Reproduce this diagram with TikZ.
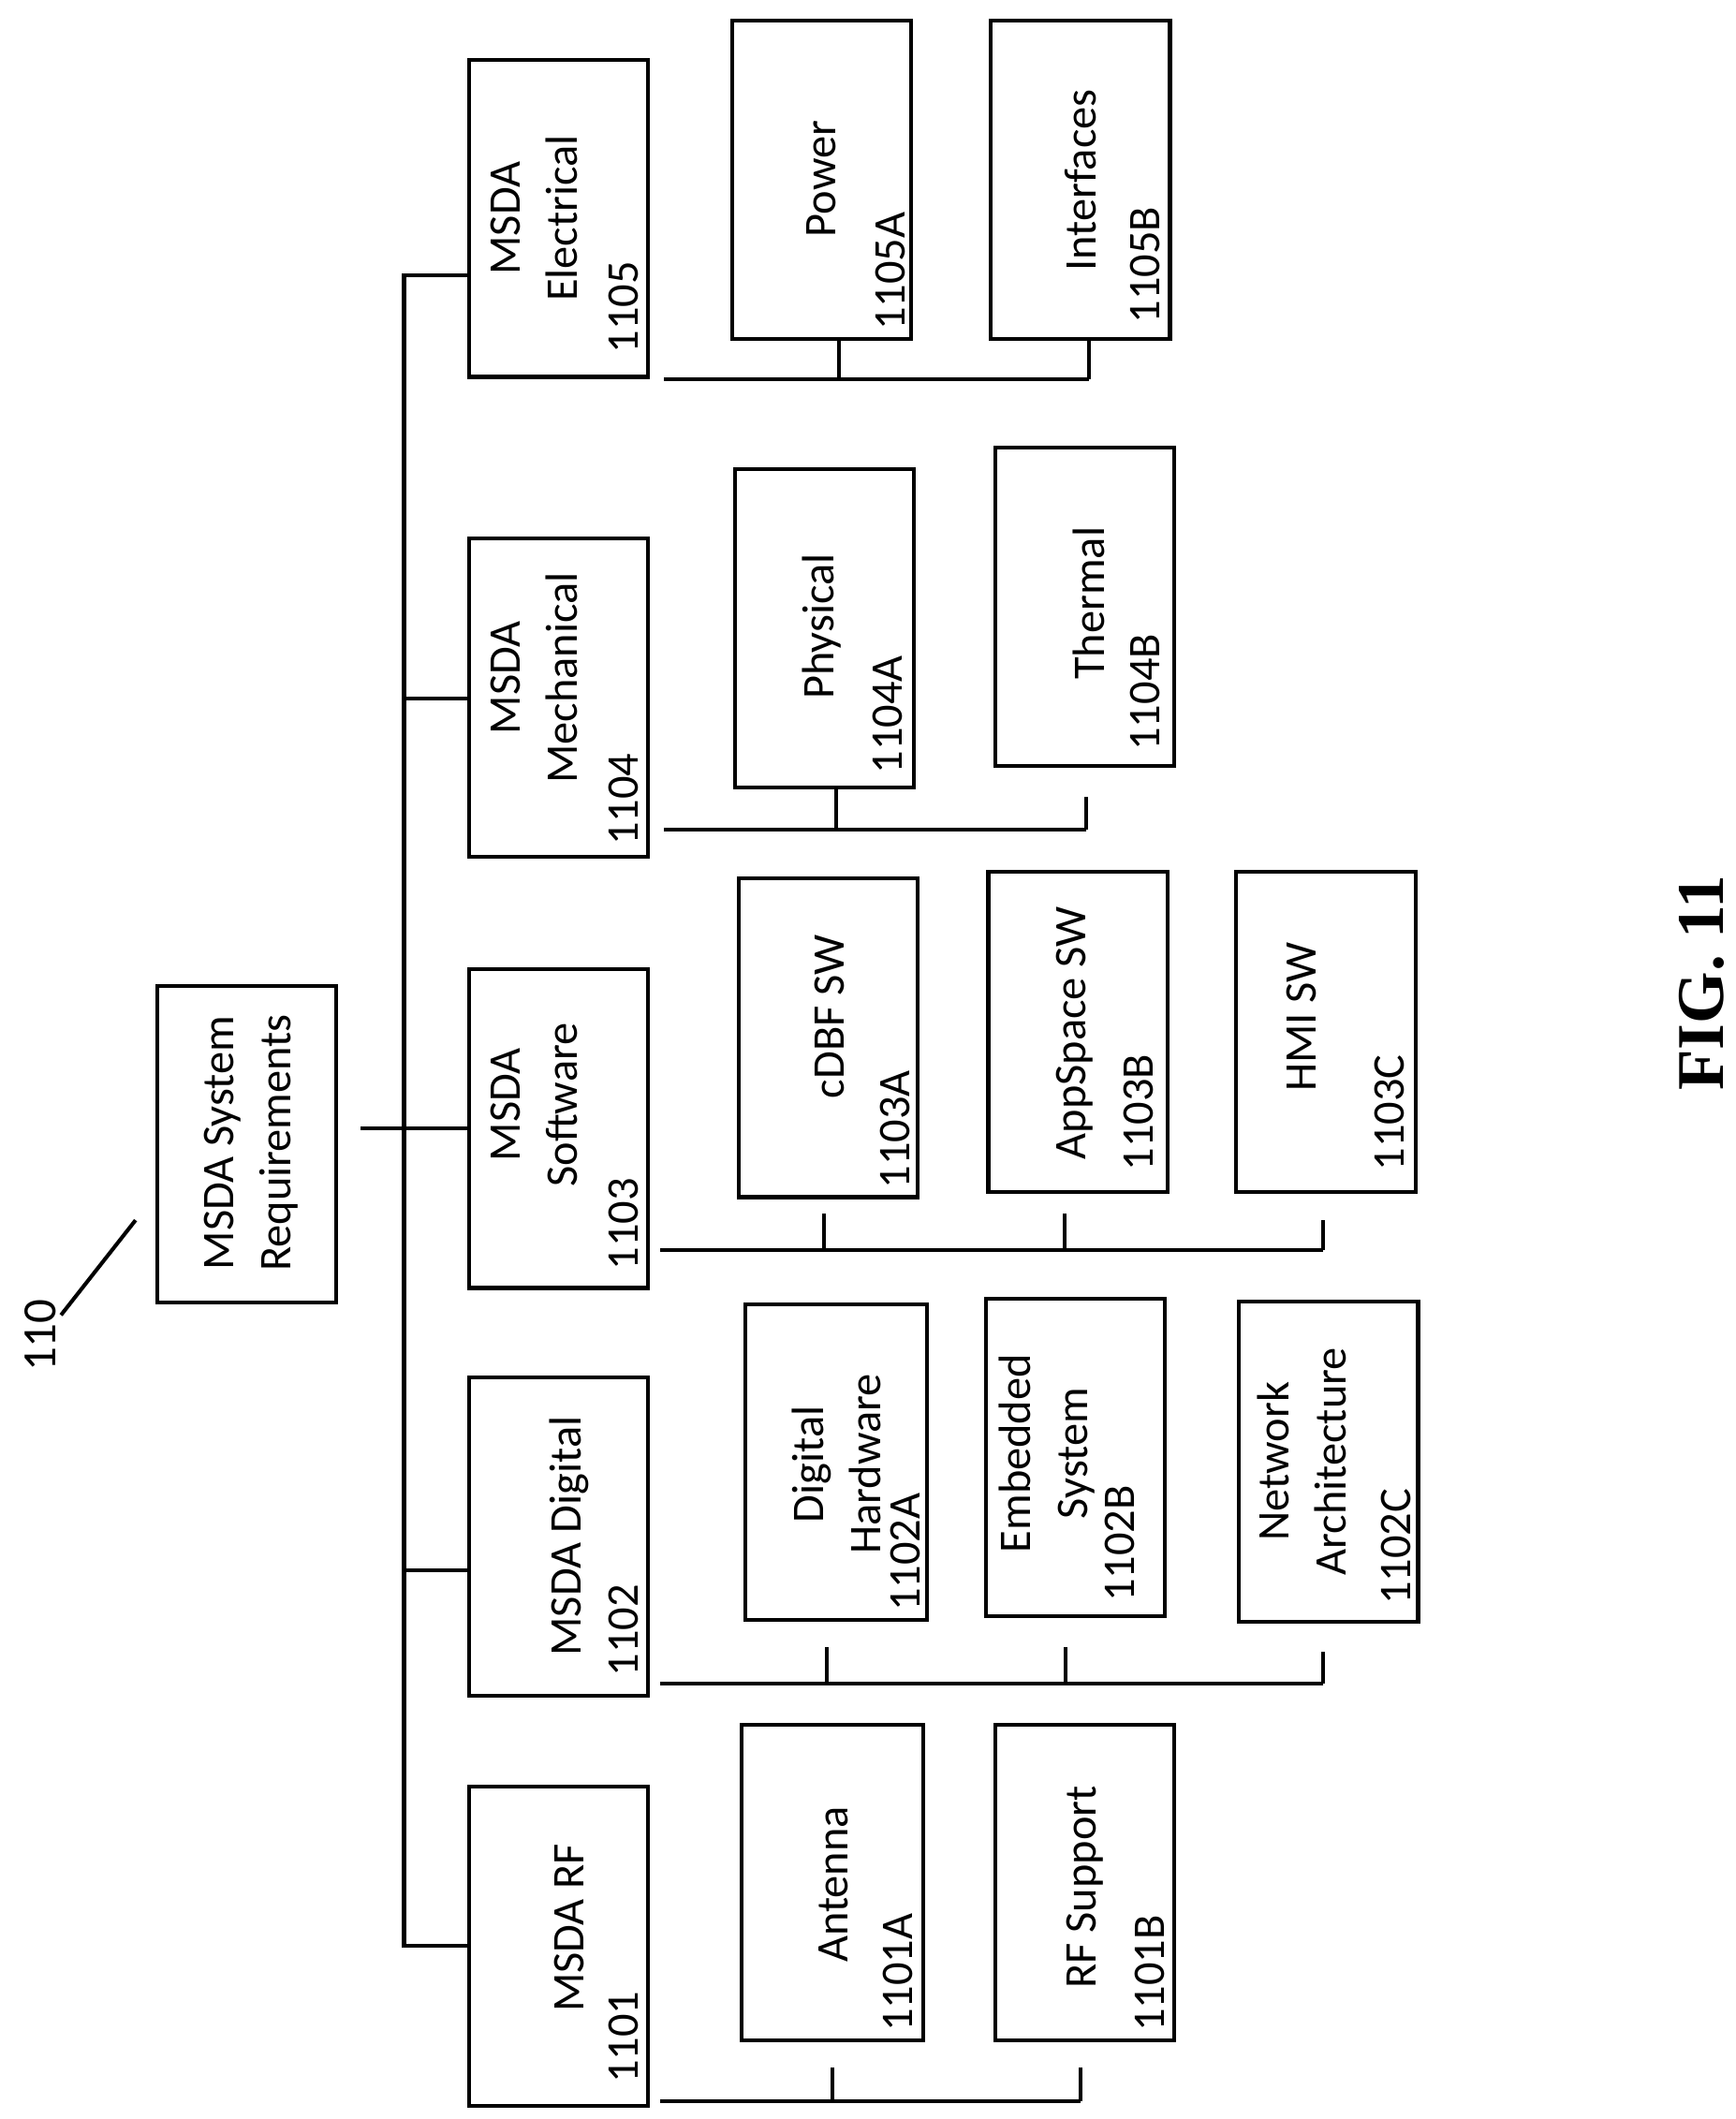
\documentclass[tikz,border=0pt]{standalone}
\usepackage{fontspec}
\setmainfont{Carlito}
\newfontfamily\figfont{Liberation Serif}
\begin{document}
\begin{tikzpicture}[x=0.01cm,y=-0.01cm,line width=0.8pt,
  box/.style={draw,line width=0.8pt,inner sep=0pt},
  lbl/.style={rotate=90,align=center,font=\fontsize{9.5}{12}\selectfont,inner sep=0pt},
  num/.style={rotate=90,anchor=west,font=\fontsize{9.5}{12}\selectfont,inner sep=0pt}]
\useasboundingbox (0,0) rectangle (1280,1563);
\newcommand\bx[5]{\node[box,minimum width={(#4-#2)*0.01cm},minimum height={(#5-#3)*0.01cm}] (#1) at ({(#2+#4)/2},{(#3+#5)/2}) {};}
% boxes
\bx{root}{116}{727}{248}{961}
\bx{b1105}{346}{44}{478}{278}
\bx{b1104}{346}{397}{478}{632}
\bx{b1103}{346}{715}{478}{950}
\bx{b1102}{346}{1016}{478}{1251}
\bx{b1101}{346}{1318}{478}{1553}
\bx{b1105A}{540}{15}{672}{250}
\bx{b1105B}{731}{15}{863}{250}
\bx{b1104A}{542}{346}{674}{581}
\bx{b1104B}{734}{330}{866}{565}
\bx{b1103A}{545}{648}{677}{883}
\bx{b1103B}{729}{643}{861}{879}
\bx{b1103C}{912}{643}{1044}{879}
\bx{b1102A}{550}{962}{684}{1195}
\bx{b1102B}{727}{958}{859}{1192}
\bx{b1102C}{914}{960}{1046}{1196}
\bx{b1101A}{547}{1272}{681}{1505}
\bx{b1101B}{734}{1272}{866}{1505}
% texts
\node[lbl] (t0) at (185,843) {MSDA System\\Requirements};
\node[lbl] (t1105) at (394,161) {MSDA\\Electrical};
\node[num] (n1105) at (460,262) {1105};
\node[lbl] (t1104) at (394,500) {MSDA\\Mechanical};
\node[num] (n1104) at (460,625) {1104};
\node[lbl] (t1103) at (394,815) {MSDA\\Software};
\node[num] (n1103) at (460,938) {1103};
\node[lbl] (t1102) at (420,1133) {MSDA Digital};
\node[num] (n1102) at (460,1238) {1102};
\node[lbl] (t1101) at (420,1422) {MSDA RF};
\node[num] (n1101) at (460,1538) {1101};
\node[lbl] (t1105A) at (606,132) {Power};
\node[num] (n1105A) at (657,245) {1105A};
\node[lbl] (t1105B) at (797,133) {Interfaces};
\node[num] (n1105B) at (845,240) {1105B};
\node[lbl] (t1104A) at (606,462) {Physical};
\node[num] (n1104A) at (655,572) {1104A};
\node[lbl] (t1104B) at (803,445) {Thermal};
\node[num] (n1104B) at (845,555) {1104B};
\node[lbl] (t1103A) at (612,750) {cDBF SW};
\node[num] (n1103A) at (660,878) {1103A};
\node[lbl] (t1103B) at (793,762) {AppSpace SW};
\node[num] (n1103B) at (840,865) {1103B};
\node[lbl] (t1103C) at (960,750) {HMI SW};
\node[num] (n1103C) at (1025,865) {1103C};
\node[lbl] (t1102A) at (617,1080) {Digital\\Hardware};
\node[num] (n1102A) at (668,1190) {1102A};
\node[lbl] (t1102B) at (772,1072) {Embedded\\System};
\node[num] (n1102B) at (826,1183) {1102B};
\node[lbl] (t1102C) at (960,1078) {Network\\Architecture};
\node[num] (n1102C) at (1030,1185) {1102C};
\node[lbl] (t1101A) at (615,1390) {Antenna};
\node[num] (n1101A) at (662,1500) {1101A};
\node[lbl] (t1101B) at (800,1392) {RF Support};
\node[num] (n1101B) at (848,1500) {1101B};
\node[rotate=90,font=\fontsize{10}{12}\selectfont,inner sep=0pt] (l110) at (30,985) {110};
\node[rotate=90,font=\figfont\bfseries\fontsize{14}{16}\selectfont,inner sep=0pt] (fig) at (1255,725) {FIG. 11};
% ref leader
\coordinate (la) at (45,970); \coordinate (lb) at (100,900);
\draw (la) -- (lb);
% trunk
\coordinate (tt) at (298,203); \coordinate (tb) at (298,1435);
\draw (b1105.west |- tt) -- (tt) -- (tb) -- (b1101.west |- tb);
\draw (298,515) -- (b1104.west |- 0,515);
\draw (298,1158) -- (b1102.west |- 0,1158);
\draw (266,832) -- (b1103.west |- 0,832);
% buses
\draw (490,280) -- (803,280); \draw (619,280) -- (b1105A.south -| 619,0); \draw (803,280) -- (b1105B.south -| 803,0);
\draw (490,612) -- (801,612); \draw (617,612) -- (b1104A.south -| 617,0); \draw (801,612) -- (801,588);
\draw (487,922) -- (976,922); \draw (608,922) -- (608,895); \draw (785,922) -- (785,895); \draw (976,922) -- (976,900);
\draw (487,1242) -- (976,1242); \draw (610,1242) -- (610,1215); \draw (786,1242) -- (786,1215); \draw (976,1242) -- (976,1218);
\draw (487,1550) -- (797,1550); \draw (614,1550) -- (614,1525); \draw (797,1550) -- (797,1525);
\end{tikzpicture}
\end{document}
